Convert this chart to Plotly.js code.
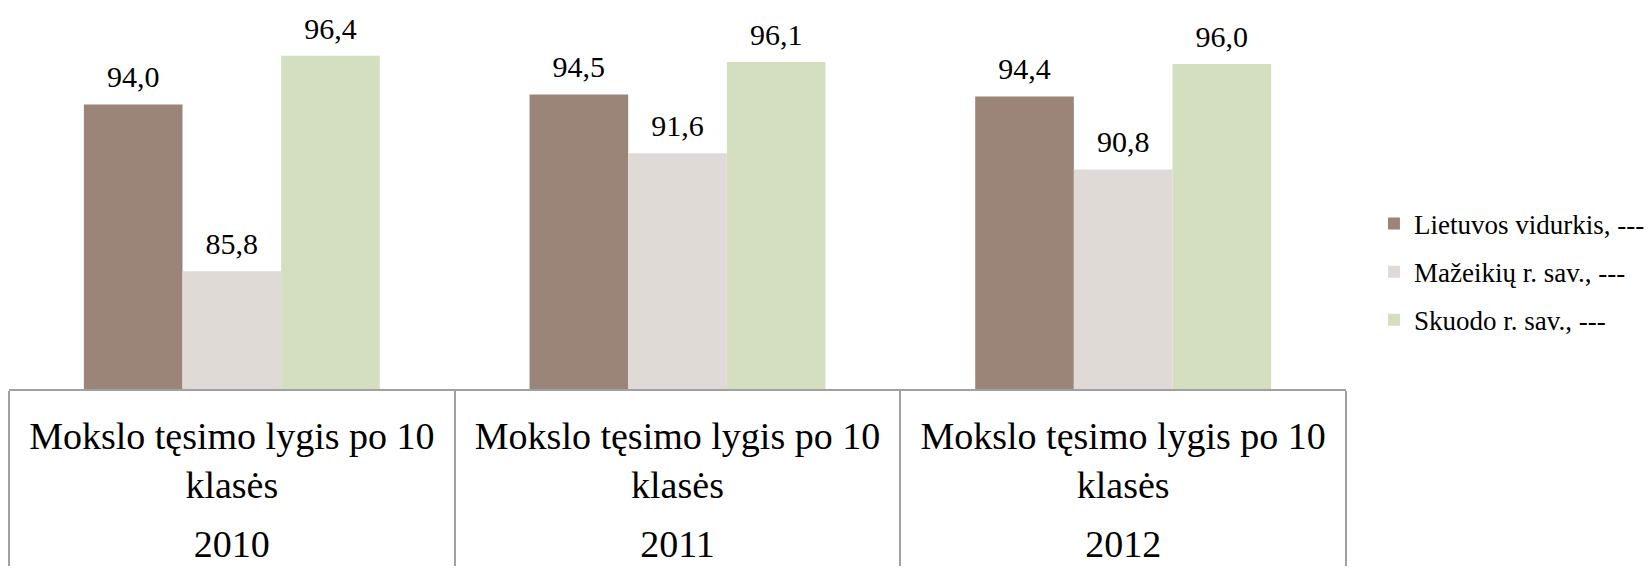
<!DOCTYPE html>
<html>
<head>
<meta charset="utf-8">
<script src="https://cdn.plot.ly/plotly-3.0.1.min.js"></script>
<style>
  html, body { margin: 0; padding: 0; background: #ffffff; }
  #chart { width: 1650px; height: 569px; }
</style>
</head>
<body>
<div id="chart"></div>
<script>
const years = ['2010', '2011', '2012'];
const indicator = 'Mokslo tęsimo lygis po 10 klasės';
const seriesNames = ['Lietuvos vidurkis, ---', 'Mažeikių r. sav., ---', 'Skuodo r. sav., ---'];
const lietuva = [94.0, 94.5, 94.4];
const mazeikiai = [85.8, 91.6, 90.8];
const skuodas = [96.4, 96.1, 96.0];
const colors = ['#9B8579', '#DFDAD6', '#D4DFC0'];

const FONT = '"Liberation Serif", "Times New Roman", serif';
const seriesValues = [lietuva, mazeikiai, skuodas];

// outer level (years) pushed a bit lower, inner label wrapped like the original
const outerCats = years.map(y => '<span style="baseline-shift:-27px">' + y + '</span>');
const innerLabel = indicator.replace(' klasės', '<br>klasės');
const xCats = [outerCats, years.map(() => innerLabel)];

const bars = seriesValues.map((vals, i) => ({
  type: 'bar',
  name: seriesNames[i],
  x: xCats,
  y: vals,
  offsetgroup: 's' + i,
  legendgroup: 'g' + i,
  marker: { color: colors[i], line: { width: 0 } },
  hoverinfo: 'skip'
}));

const labels = seriesValues.map((vals, i) => ({
  type: 'scatter',
  mode: 'markers+text',
  x: xCats,
  y: vals,
  offsetgroup: 's' + i,
  showlegend: false,
  legendgroup: 'g' + i,
  marker: { size: 14, color: 'rgba(0,0,0,0)' },
  text: vals.map(v => v.toFixed(1).replace('.', ',')),
  textposition: 'top center',
  textfont: { family: FONT, size: 30, color: '#000000' },
  cliponaxis: false,
  hoverinfo: 'skip'
}));

const layout = {
  width: 1650,
  height: 569,
  margin: { l: 9, r: 300, t: 0, b: 180 },
  paper_bgcolor: '#ffffff',
  plot_bgcolor: '#ffffff',
  separators: ', ',
  barmode: 'group',
  bargap: 0.336,
  bargroupgap: 0,
  scattermode: 'group',
  scattergap: 0.336,
  font: { family: FONT, color: '#000000' },
  xaxis: {
    type: 'multicategory',
    showline: true,
    linecolor: '#A0A0A0',
    linewidth: 2,
    ticks: '',
    ticklabelstandoff: 12,
    showgrid: false,
    showdividers: true,
    dividercolor: '#A0A0A0',
    dividerwidth: 2,
    tickfont: { family: FONT, size: 38, color: '#000000' }
  },
  yaxis: {
    range: [80, 99.15],
    visible: false,
    showgrid: false,
    zeroline: false
  },
  legend: {
    x: 1.0209,
    xanchor: 'left',
    y: 0.3007,
    yanchor: 'middle',
    traceorder: 'grouped',
    tracegroupgap: 10,
    font: { family: FONT, size: 27, color: '#000000' },
    bgcolor: 'rgba(0,0,0,0)'
  },
  showlegend: true
};

Plotly.newPlot('chart', bars.concat(labels), layout, { displayModeBar: false, staticPlot: true });
</script>
</body>
</html>
